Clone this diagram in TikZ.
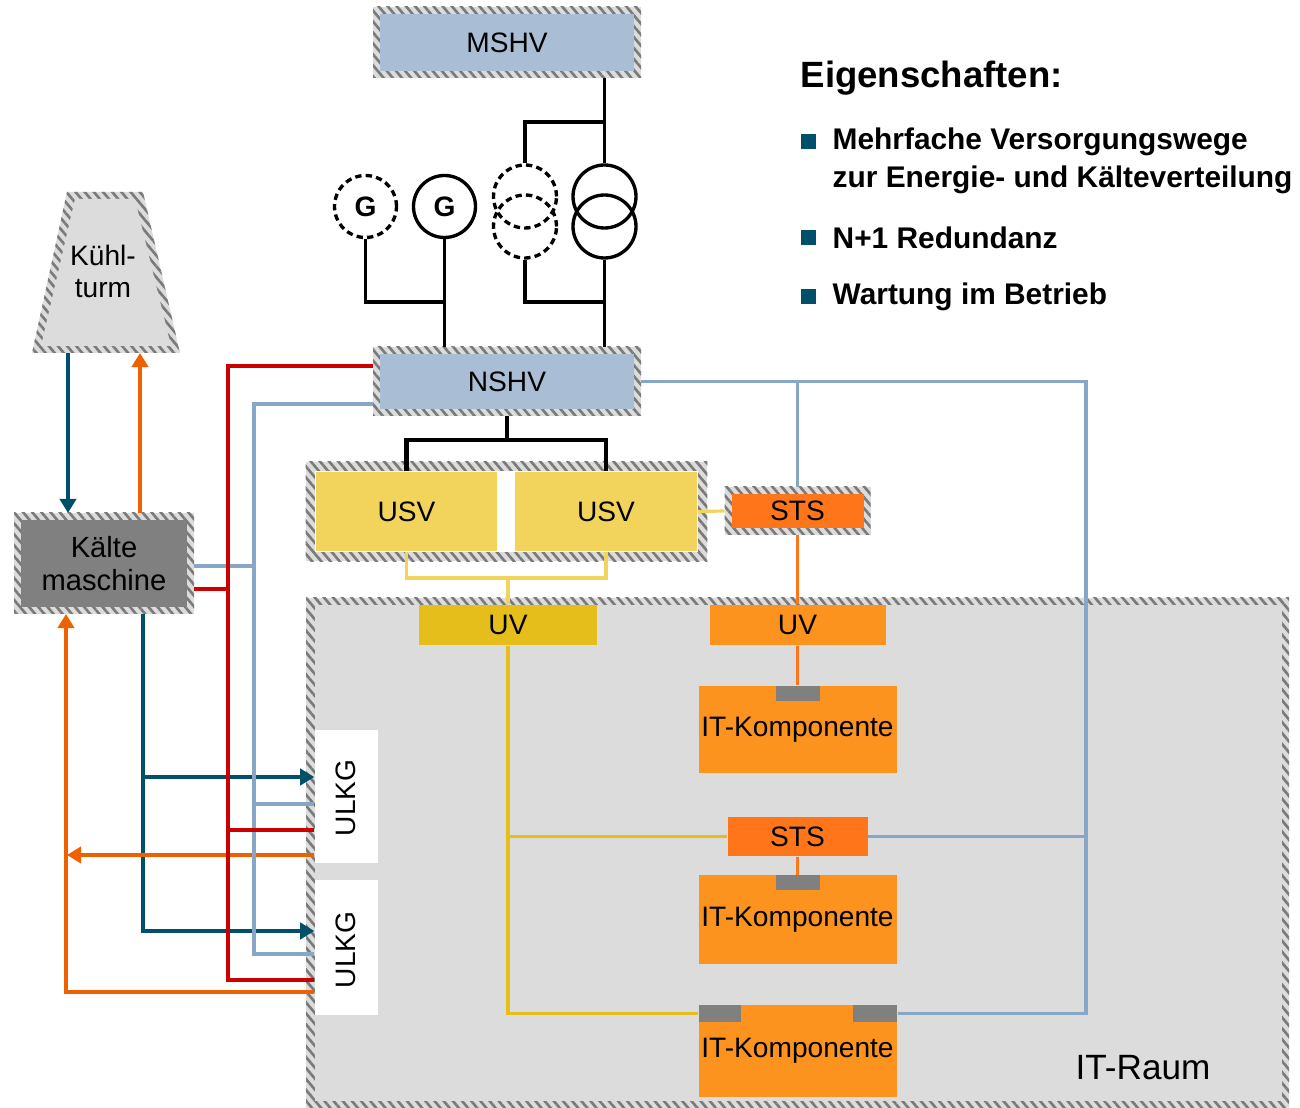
\documentclass[tikz,border=0pt]{standalone}
\usepackage{fontspec}
\setmainfont{Liberation Sans}
\usetikzlibrary{arrows.meta,patterns.meta,fit,backgrounds}

\definecolor{boxblue}{HTML}{A9BED5}
\definecolor{lineblue}{HTML}{88A6C5}
\definecolor{usvyellow}{HTML}{F2D35B}
\definecolor{uvyellow}{HTML}{E5BE1C}
\definecolor{itorange}{HTML}{FC931E}
\definecolor{stsorange}{HTML}{FF761A}
\definecolor{cablered}{HTML}{CC0000}
\definecolor{waterteal}{HTML}{00506A}
\definecolor{waterorange}{HTML}{EE6000}
\definecolor{machgray}{HTML}{808080}
\definecolor{roomgray}{HTML}{DCDCDC}
\definecolor{hatchgray}{HTML}{7A7A7A}

\tikzset{
  lbl/.style={font=\fontsize{8}{9.1}\selectfont, text=black},
  box/.style={rectangle, inner sep=0pt, lbl},
  framed/.style={box, outer sep=0.7mm},
  tab/.style={rectangle, inner sep=0pt, fill=machgray, minimum width=4.4mm, minimum height=1.5mm},
  gen/.style={circle, draw, line width=0.95pt, minimum size=6.2mm, inner sep=0pt, font=\bfseries\fontsize{8}{9}\selectfont},
  coil/.style={circle, draw, line width=0.95pt, minimum size=6.3mm, inner sep=0pt},
  dashes/.style={dash pattern=on 1.8pt off 1.2pt},
  hatch/.style={fill=roomgray, postaction={pattern={Lines[angle=-50,distance=2pt,line width=0.75pt]}, pattern color=hatchgray}},
  wire/.style={line width=0.95pt},
  busline/.style={line width=1.3pt},
  blueline/.style={lineblue, line width=1pt},
  redline/.style={cablered, line width=1.35pt},
  usvline/.style={usvyellow, line width=0.9pt},
  uvline/.style={uvyellow, line width=0.9pt},
  stsline/.style={stsorange, line width=0.9pt},
  coldline/.style={waterteal, line width=1.25pt},
  warmline/.style={waterorange, line width=1.1pt},
  >={Triangle[length=4pt,width=4.6pt]},
  sq/.style={rectangle, inner sep=0pt, fill=waterteal, minimum size=1.5mm},
  item/.style={anchor=west, inner sep=0pt, align=left, font=\bfseries\fontsize{8.5}{10.8}\selectfont}
}

\begin{document}
\begin{tikzpicture}[x=0.1mm,y=-0.1mm]
  \useasboundingbox (0,0) rectangle (1300,1108);
  \node[font=\fontsize{10}{12}\selectfont] (raum) at (1143,1068) {IT-Raum};
  % switchboards
  \node[framed, fill=boxblue, minimum width=25.4mm, minimum height=5.7mm] (mshv) at (507,42.5) {MSHV};
  \node[framed, fill=boxblue, minimum width=25.4mm, minimum height=5.5mm] (nshv) at (507,381.5) {NSHV};
  % generators and transformers
  \node[gen, dashes] (g1) at (365.5,206.5) {G};
  \node[gen] (g2) at (444.5,206.5) {G};
  \node[coil, dashes] (td1) at (525,196.5) {};
  \node[coil, dashes] (td2) at (525,226.5) {};
  \node[coil] (ts1) at (604.5,196.5) {};
  \node[coil] (ts2) at (604.5,226.5) {};
  % ups and static switches
  \node[box, fill=usvyellow, minimum width=18.1mm, minimum height=7.9mm] (usv1) at (406.5,511.5) {USV};
  \node[box, fill=usvyellow, minimum width=18.2mm, minimum height=7.9mm] (usv2) at (606,511.5) {USV};
  \node[fit=(usv1)(usv2), inner sep=0.9mm] (usvs) {};
  \node[framed, fill=stsorange, minimum width=13.2mm, minimum height=3.4mm] (sts1) at (797.5,511) {STS};
  \node[box, fill=uvyellow, minimum width=17.8mm, minimum height=4mm] (uv1) at (508,625) {UV};
  \node[box, fill=itorange, minimum width=17.6mm, minimum height=4mm] (uv2) at (797.5,625) {UV};
  % it components
  \node[box, fill=itorange, minimum width=19.8mm, minimum height=8.7mm] (itk1) at (797.5,729.5) {IT-Komponente};
  \node[tab] (tab1) at (797.5,693.5) {};
  \node[box, fill=stsorange, minimum width=14mm, minimum height=3.9mm] (sts2) at (797.5,836.5) {STS};
  \node[box, fill=itorange, minimum width=19.8mm, minimum height=8.9mm] (itk2) at (797.5,919.5) {IT-Komponente};
  \node[tab] (tab2) at (797.5,883) {};
  \node[box, fill=itorange, minimum width=19.8mm, minimum height=9.2mm] (itk3) at (797.5,1051) {IT-Komponente};
  \node[tab, minimum width=4.2mm, minimum height=1.7mm] (tab3l) at (720,1013.5) {};
  \node[tab, minimum width=4.4mm, minimum height=1.7mm] (tab3r) at (875,1013.5) {};
  % cooling
  \node[framed, fill=machgray, minimum width=16.6mm, minimum height=8.7mm, align=center, font=\fontsize{8.3}{9.2}\selectfont] (km) at (104,563.5) {Kälte\\maschine};
  \node[lbl, align=center] (kt) at (103,271) {Kühl-\\turm};
  \coordinate (ktbase) at (104,353);
  \node[box, fill=white, minimum width=6.3mm, minimum height=13.3mm] (ulkg1) at (346.5,796.5) {};
  \node[box, fill=white, minimum width=6.3mm, minimum height=13.5mm] (ulkg2) at (346.5,947.5) {};
  \node[lbl, rotate=90] (ulkg1txt) at (346,798) {ULKG};
  \node[lbl, rotate=90] (ulkg2txt) at (346,950) {ULKG};

  % frames and room
  \begin{scope}[on background layer]
    \path[hatch] (306,598) rectangle (1289,1108);
    \fill[roomgray] (315,605) rectangle (1282,1101);
    \foreach \n in {mshv,nshv,sts1,km}
      \path[hatch] (\n.north west) rectangle (\n.south east);
    \path[hatch] (usvs.north west) rectangle (usvs.south east);
    \fill[white] (usv1.north west) rectangle (usv2.south east);
    \path[hatch] (67,192) -- (143,192) -- (180,353) -- (32,353) -- cycle;
    \fill[roomgray] (75,199) -- (135,199) -- (171,346) -- (41,346) -- cycle;
  \end{scope}

  % feed-in
  \draw[wire] (mshv.south -| ts1.north) -- (ts1.north);
  \draw[wire] (ts1.north |- 0,122) -| (td1.north);
  \draw[wire] (ts2.south) -- (ts2.south |- nshv.north);
  \draw[wire] (td2.south) |- (ts2.south |- 0,302);
  \draw[wire] (g1.south) |- (g2.south |- 0,302);
  \draw[wire] (g2.south) -- (g2.south |- nshv.north);
  % distribution
  \draw[busline] (nshv.south) -- (nshv.south |- 0,440);
  \draw[busline] (usv1.north) |- (usv2.north |- 0,440) -- (usv2.north);
  \draw[usvline] (usv1.south) |- (usv2.south |- 0,578) -- (usv2.south);
  \draw[usvline] (uv1.north |- 0,578) -- (uv1.north);
  \draw[usvline] (usv2.east) -- (sts1.west);
  \draw[stsline] (sts1.south) -- (uv2.north);
  \draw[stsline] (uv2.south) -- (tab1.north);
  \draw[stsline] (sts2.south) -- (tab2.north);
  \draw[uvline] (uv1.south) |- (tab3l.west);
  \draw[uvline] (uv1.south |- sts2.west) -- (sts2.west);
  \draw[blueline] (nshv.east) -- (1086,381.5) |- (tab3r.east);
  \draw[blueline] (sts1.north) -- (sts1.north |- nshv.east);
  \draw[blueline] (sts2.east) -- (sts2.east -| 1086,0);
  % cooling water
  \draw[coldline, ->] (ktbase -| 68,0) -- (km.north -| 68,0);
  \draw[warmline, ->] (km.north -| 140,0) -- (ktbase -| 140,0);
  \draw[coldline, ->] (km.south -| 143,0) |- (ulkg2.west |- 0,931);
  \draw[coldline, ->] (143,777) -- (ulkg1.west |- 0,777);
  \draw[warmline, ->] (ulkg2.west |- 0,992) -| (km.south -| 66,0);
  \draw[warmline, ->] (ulkg1.west |- 0,855) -- (67,855);
  % power for cooling
  \draw[blueline] (nshv.west |- 0,404) -| (254,954) -- (ulkg2.west |- 0,954);
  \draw[blueline] (km.east |- 0,566) -- (254,566);
  \draw[blueline] (254,804) -- (ulkg1.west |- 0,804);
  \draw[redline] (nshv.west |- 0,366) -| (228,980) -- (ulkg2.west |- 0,980);
  \draw[redline] (km.east |- 0,589) -- (228,589);
  \draw[redline] (228,830) -- (ulkg1.west |- 0,830);

  % properties
  \node[anchor=west, inner sep=0pt, font=\bfseries\fontsize{10.4}{12}\selectfont] (head) at (800,78) {Eigenschaften:};
  \node[sq] (sq1) at (808.5,142) {};
  \node[item] (it1) at (832,161) {Mehrfache Versorgungswege\\zur Energie- und Kälteverteilung};
  \node[sq] (sq2) at (808.5,238) {};
  \node[item] (it2) at (832,238) {N+1 Redundanz};
  \node[sq] (sq3) at (808.5,297) {};
  \node[item] (it3) at (832,297) {Wartung im Betrieb};
\end{tikzpicture}
\end{document}
